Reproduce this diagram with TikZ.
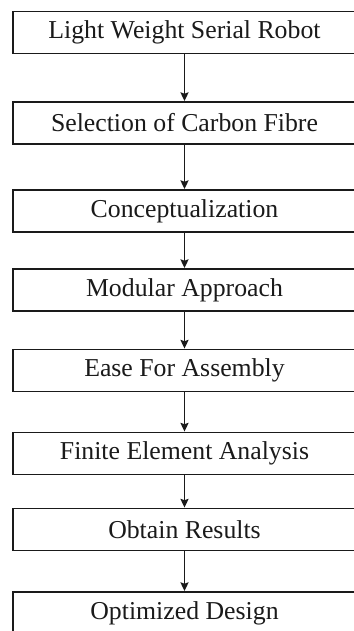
\documentclass[tikz,border=0pt]{standalone}
\usepackage{fontspec}
\setmainfont{Liberation Serif}
\usetikzlibrary{arrows.meta}
\definecolor{flink}{HTML}{1A1A1A}
\tikzset{
  fl box/.style={draw=flink, line width=1.6pt, fill=white,
    minimum width=10.29cm, minimum height=1.26cm, inner sep=0pt,
    font=\fontsize{22}{26}\selectfont, text=flink},
  fl arrow/.style={-{Stealth[length=2.6mm,width=2.4mm,inset=0.4mm]}, line width=1.6pt,
    draw=flink}
}

\begin{document}
\begin{tikzpicture}[x=0.03cm, y=-0.03cm]
  \useasboundingbox (0,0) rectangle (353,631);

  \node[fl box] (robot) at (184.5,32.5) {Light Weight Serial Robot};
  \node[fl box] (fibre) at (184.5,123) {Selection of Carbon Fibre};
  \node[fl box] (concept) at (184.5,211) {Conceptualization};
  \node[fl box] (modular) at (184.5,290) {Modular Approach};
  \node[fl box] (assembly) at (184.5,370.5) {Ease For Assembly};
  \node[fl box] (fea) at (184.5,453.5) {Finite Element Analysis};
  \node[fl box] (results) at (184.5,529.5) {Obtain Results};
  \node[fl box] (design) at (184.5,613) {Optimized Design};

  \draw[fl arrow] (robot) -- (fibre);
  \draw[fl arrow] (fibre) -- (concept);
  \draw[fl arrow] (concept) -- (modular);
  \draw[fl arrow] (modular) -- (assembly);
  \draw[fl arrow] (assembly) -- (fea);
  \draw[fl arrow] (fea) -- (results);
  \draw[fl arrow] (results) -- (design);
\end{tikzpicture}
\end{document}
